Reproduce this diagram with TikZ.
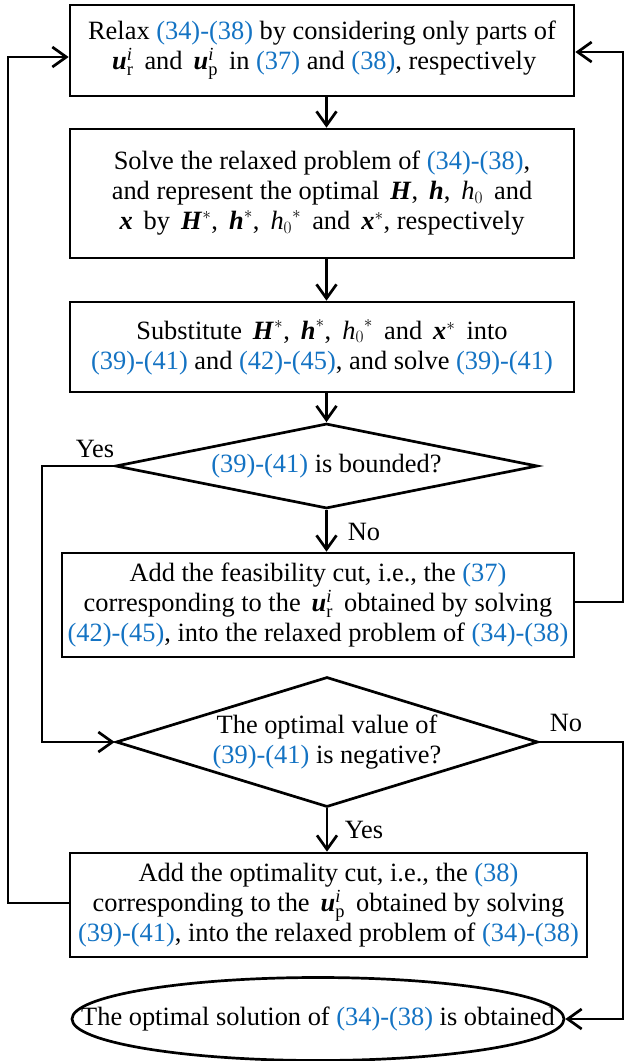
\documentclass[tikz,border=0pt]{standalone}
\usepackage{amsmath}
\usepackage{fontspec}
\setmainfont{Liberation Serif}
\usetikzlibrary{shapes.geometric,arrows.meta}
\definecolor{refblue}{RGB}{20,115,195}
\newcommand\eqr[1]{\textcolor{refblue}{#1}}
\newcommand\bvec[1]{\textbf{\textit{#1}}}
\begin{document}
\begin{tikzpicture}[x=1pt,y=-1pt, line width=2.7pt,
  font=\fontsize{26.4}{30}\selectfont,
  box/.style={draw, rectangle, inner sep=0pt, align=center},
  dia/.style={draw, diamond, inner sep=0pt},
  term/.style={draw, ellipse, inner sep=0pt},
  txt/.style={align=center, inner sep=0pt},
  arr/.style={-{Straight Barb[length=14pt,width=20pt]}},
  lbl/.style={inner sep=0pt}]
\useasboundingbox (0,0) rectangle (625,1061);

\node[box, minimum width=504pt, minimum height=91pt] (b1) at (322,50.5)
  {Relax \eqr{(34)-(38)} by considering only parts of\\
   \,$\bvec{u}_{\mathrm{r}}^{\textit{i}}$\, and \,$\bvec{u}_{\mathrm{p}}^{\textit{i}}$\, in \eqr{(37)} and \eqr{(38)}, respectively};

\node[box, minimum width=504pt, minimum height=129pt] (b2) at (322,193.5)
  {Solve the relaxed problem of \eqr{(34)-(38)},\\
   and represent the optimal \,$\bvec{H}$, \,$\bvec{h}$, \,$\textit{h}_{0}$\, and\\
   $\bvec{x}$\, by \,$\bvec{H}^{*}$, \,$\bvec{h}^{*}$, \,${\textit{h}_{0}}^{*}$\, and \,$\bvec{x}^{*}$, respectively};

\node[box, minimum width=504pt, minimum height=90pt] (b3) at (322,347)
  {Substitute \,$\bvec{H}^{*}$, \,$\bvec{h}^{*}$, \,${\textit{h}_{0}}^{*}$\, and \,$\bvec{x}^{*}$\, into\\
   \eqr{(39)-(41)} and \eqr{(42)-(45)}, and solve \eqr{(39)-(41)}};

\node[dia, minimum width=422pt, minimum height=85pt] (d1) at (326.5,466) {};
\node[txt] (d1t) at (d1) {\eqr{(39)-(41)} is bounded?};

\node[box, minimum width=512pt, minimum height=104pt] (b4) at (318,605)
  {Add the feasibility cut, i.e., the \eqr{(37)}\\
   corresponding to the \,$\bvec{u}_{\mathrm{r}}^{\textit{i}}$\, obtained by solving\\
   \eqr{(42)-(45)}, into the relaxed problem of \eqr{(34)-(38)}};

\node[dia, minimum width=422pt, minimum height=130pt] (d2) at (327,742) {};
\node[txt] (d2t) at (d2) {The optimal value of\\ \eqr{(39)-(41)} is negative?};

\node[box, minimum width=517pt, minimum height=104pt] (b5) at (328.5,905)
  {Add the optimality cut, i.e., the \eqr{(38)}\\
   corresponding to the \,$\bvec{u}_{\mathrm{p}}^{\textit{i}}$\, obtained by solving\\
   \eqr{(39)-(41)}, into the relaxed problem of \eqr{(34)-(38)}};

\node[term, minimum width=492pt, minimum height=83pt] (end) at (318,1019) {};
\node[txt] (endt) at (end) {The optimal solution of \eqr{(34)-(38)} is obtained};

\coordinate (cL) at (8,0);
\coordinate (cY) at (42,0);
\coordinate (cR) at (623,0);

\draw[arr] (b1.south -| d1) -- (b2.north -| d1);
\draw[arr] (b2.south -| d1) -- (b3.north -| d1);
\draw[arr] (b3.south -| d1) -- (d1.north);
\draw[arr] (d1.south) -- (b4.north -| d1);
\draw[arr] (d2.south) -- (b5.north -| d2);

\draw[arr] (d1.west) -- (d1.west -| cY) |- (d2.west);
\draw[arr] (d2.east) -- (d2.east -| cR) |- (end.east);
\draw[arr] ([yshift=3pt]b4.east) -- ([yshift=3pt]b4.east -| cR) |- ([yshift=-1.5pt]b1.east);
\draw[arr] ([yshift=2pt]b5.west) -- ([yshift=2pt]b5.west -| cL) |- ([yshift=-6.5pt]b1.west);

\node[lbl] (yes1) at (95,449) {Yes};
\node[lbl] (no1) at (364,532) {No};
\node[lbl] (no2) at (566,723) {No};
\node[lbl] (yes2) at (364,830) {Yes};
\end{tikzpicture}
\end{document}
